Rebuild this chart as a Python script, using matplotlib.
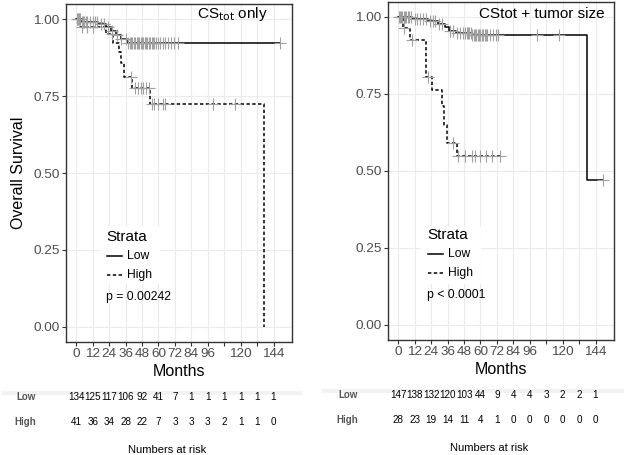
import matplotlib
matplotlib.use('Agg')
import matplotlib.pyplot as plt
import matplotlib.transforms as mtransforms
from matplotlib.lines import Line2D
from matplotlib.patches import Rectangle
import numpy as np

plt.rcParams['font.family'] = ['Liberation Sans', 'DejaVu Sans']

W, H = 624, 455

months = [0, 12, 24, 36, 48, 60, 72, 84, 96, 108, 120, 132, 144]
month_labels = ['0', '12', '24', '36', '48', '60', '72', '84', '96', '', '120', '', '144']
surv_ticks = [0.0, 0.25, 0.5, 0.75, 1.0]
surv_labels = ['0.00', '0.25', '0.50', '0.75', '1.00']

# CStot only
l_low_t = [0, 4, 16, 22, 25, 29, 33, 37]
l_low_s = [1.0, 0.992, 0.984, 0.975, 0.962, 0.950, 0.937, 0.924]
l_low_end = 149
l_low_cens = [0.5, 1, 2, 3, 4.5, 5, 6, 7, 8, 10, 12, 14, 15, 18, 20, 23, 26, 30, 33,
              36, 38, 39, 40, 41, 42, 43, 44, 45, 46, 47, 48, 49, 50, 51, 52, 53, 54,
              55, 56, 57, 58, 60, 61, 63, 65, 67, 69, 71, 74, 149]
l_high_t = [0, 3, 22, 27, 31, 33, 35, 41, 54, 137]
l_high_s = [1.0, 0.976, 0.951, 0.924, 0.893, 0.859, 0.812, 0.776, 0.724, 0.0]
l_high_end = 137
l_high_cens = [1, 4, 8, 12, 26, 40, 43, 45, 47, 49, 51, 53, 55, 57, 60, 63, 65, 100, 116]
l_low_risk = [134, 125, 117, 106, 92, 41, 7, 1, 1, 1, 1, 1, 1]
l_high_risk = [41, 36, 34, 28, 22, 7, 3, 3, 3, 2, 1, 1, 0]

# CStot + tumor size
r_low_t = [0, 10, 22, 29, 34, 37, 42, 54, 137.5]
r_low_s = [1.0, 0.993, 0.986, 0.976, 0.966, 0.955, 0.948, 0.940, 0.470]
r_low_end = 149.5
r_low_cens = [0.5, 1, 2, 3, 4, 5, 6, 7, 8, 9, 12, 14, 16, 18, 20, 23, 25, 27, 30, 32,
              38, 40, 43, 45, 47, 49, 50, 51, 52, 53, 54, 55, 56, 57, 58, 59, 60, 61,
              62, 63, 64, 65, 67, 69, 71, 73, 101, 117, 149.5]
r_high_t = [0, 3.6, 8.5, 20, 24.5, 32, 33.5, 35.3, 42.7]
r_high_s = [1.0, 0.964, 0.924, 0.805, 0.762, 0.71, 0.65, 0.591, 0.547]
r_high_end = 74.2
r_high_cens = [4.5, 10, 22, 40, 43.9, 48.7, 53.6, 56, 59.6, 64, 68.1, 74.2]
r_low_risk = [147, 138, 132, 120, 103, 44, 9, 4, 4, 3, 2, 2, 1]
r_high_risk = [28, 23, 19, 14, 11, 4, 1, 0, 0, 0, 0, 0, 0]


def fx(px):
    return px / W


def fy(py):
    return 1 - py / H


def step_at(t, s, x):
    i = np.searchsorted(t, x, side='right') - 1
    return np.array(s)[i]


def km(ax, t, s, end, cens, ls):
    ax.step(t + [end], s + [s[-1]], where='post', color='black', lw=1.1,
            linestyle=ls, zorder=3)
    ax.plot(cens, step_at(t, s, cens), linestyle='none', marker='+', ms=8,
            mew=0.8, color='#a0a0a0', zorder=4)


fig = plt.figure(figsize=(W / 100, H / 100), dpi=100)
dash = (0, (2.2, 1.6))

panels = [
    dict(rect=[fx(66), fy(342), fx(292) - fx(66), fy(4) - fy(342)],
         low=(l_low_t, l_low_s, l_low_end, l_low_cens),
         high=(l_high_t, l_high_s, l_high_end, l_high_cens),
         risk=(l_low_risk, l_high_risk), ptxt='p = 0.00242',
         leg=(106, 237), rows=(397, 422, 450), lab_x=36, nar_x=167, months_y=372,
         band=(2, 302)),
    dict(rect=[fx(388), fy(340), fx(614) - fx(388), fy(1.5) - fy(340)],
         low=(r_low_t, r_low_s, r_low_end, r_low_cens),
         high=(r_high_t, r_high_s, r_high_end, r_high_cens),
         risk=(r_low_risk, r_high_risk), ptxt='p < 0.0001',
         leg=(427, 235), rows=(395, 420, 448), lab_x=358, nar_x=489, months_y=369,
         band=(322, 624)),
]

for p in panels:
    ax = fig.add_axes(p['rect'])
    ax.set_xlim(-7.5, 157.5)
    ax.set_ylim(-0.05, 1.05)
    ax.set_xticks(months)
    ax.set_xticklabels(month_labels)
    ax.set_yticks(surv_ticks)
    ax.set_yticklabels(surv_labels)
    ax.grid(True, color='#ebebeb', lw=0.8, zorder=0)
    ax.set_axisbelow(True)
    for sp in ax.spines.values():
        sp.set_color('#333333')
        sp.set_linewidth(1.0)
    ax.tick_params(length=3, width=0.8, color='#333333', labelcolor='#4d4d4d',
                   labelsize=9.7, pad=1.5)
    km(ax, *p['low'], ls='-')
    km(ax, *p['high'], ls=dash)

    fig.text(p['rect'][0] + p['rect'][2] / 2, fy(p['months_y']), 'Months',
             ha='center', va='center', fontsize=11.5)

    # legend
    lx, ly = p['leg']
    fig.add_artist(Rectangle((fx(lx - 6), fy(284)), fx(60), 58 / H,
                             transform=fig.transFigure, facecolor='white',
                             edgecolor='none', zorder=1))
    fig.text(fx(lx), fy(ly), 'Strata', ha='left', va='center', fontsize=11, zorder=3)
    fig.add_artist(Line2D([fx(lx + 1), fx(lx + 16)], [fy(ly + 19)] * 2, color='black',
                          lw=1.1, transform=fig.transFigure, zorder=2))
    fig.add_artist(Line2D([fx(lx + 1), fx(lx + 16)], [fy(ly + 38)] * 2, color='black',
                          lw=1.1, linestyle=dash, transform=fig.transFigure, zorder=2))
    fig.text(fx(lx + 21), fy(ly + 19), 'Low', ha='left', va='center', fontsize=8.7)
    fig.text(fx(lx + 21), fy(ly + 38), 'High', ha='left', va='center', fontsize=8.7)
    fig.text(fx(lx), fy(ly + 60), p['ptxt'], ha='left', va='center', fontsize=8.8)

    # numbers at risk
    trans = mtransforms.blended_transform_factory(ax.transData, fig.transFigure)
    y_low, y_high, y_nar = p['rows']
    b0, b1 = p['band']
    fig.add_artist(Rectangle((fx(b0), fy(y_low - 2)), fx(b1 - b0), 4 / H,
                             transform=fig.transFigure, facecolor='#f2f2f2',
                             edgecolor='none', zorder=0))
    for m, n_low, n_high in zip(months, p['risk'][0], p['risk'][1]):
        fig.text(m, fy(y_low), str(n_low), transform=trans, ha='center', va='center',
                 fontsize=7.1)
        fig.text(m, fy(y_high), str(n_high), transform=trans, ha='center', va='center',
                 fontsize=7.1)
    fig.text(fx(p['lab_x']), fy(y_low), 'Low', ha='right', va='center', fontsize=7,
             fontweight='bold', color='#555555')
    fig.text(fx(p['lab_x']), fy(y_high), 'High', ha='right', va='center', fontsize=7,
             fontweight='bold', color='#555555')
    fig.text(fx(p['nar_x']), fy(y_nar), 'Numbers at risk', ha='center', va='center',
             fontsize=8)

fig.text(fx(19), fy(173), 'Overall Survival', rotation=90, ha='center', va='center',
         fontsize=11.5)
fig.text(fx(268), fy(14), r'CS$_{\mathrm{tot}}$ only', ha='right', va='center',
         fontsize=11, zorder=3)
fig.text(fx(605), fy(14), 'CStot + tumor size', ha='right', va='center', fontsize=11,
         zorder=3)

fig.savefig('out.png', dpi=100)
